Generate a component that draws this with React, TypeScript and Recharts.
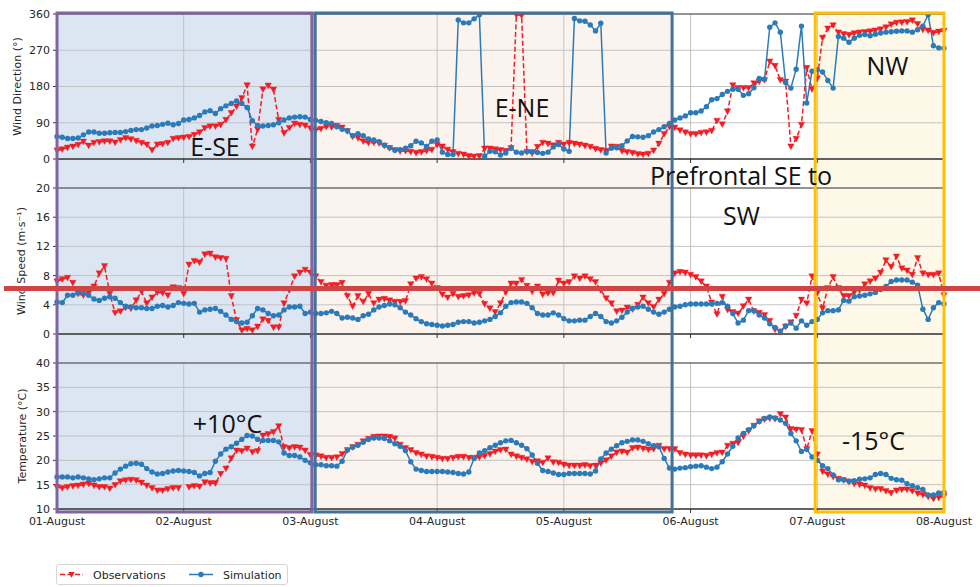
import React from 'react';
import { LineChart, Line, XAxis, YAxis, CartesianGrid, ReferenceArea } from 'recharts';

const dayLabels = ['01-August', '02-August', '03-August', '04-August', '05-August', '06-August', '07-August', '08-August'];
const dayTicks = [0, 24, 48, 72, 96, 120, 144, 168];
const dirTicks = [0, 90, 180, 270, 360];
const speedTicks = [0, 4, 8, 12, 16, 20];
const tempTicks = [10, 15, 20, 25, 30, 35, 40];

const windDirObs = [
  21, 24, 28, 31, 35, 43, 33, 40, 42, 44, 44, 41, 47, 52, 49, 45, 40, 36, 22, 36, 37, 40, 50, 52, 53, 55, 60, 66, 77, 81, 81, 85, 97, 114, 130, 151, 183, 31, 73, 173, 182, 172, 97, 64, 77, 88, 85, 83, 76,
  72, 75, 80, 79, 82, 78, 69, 56, 52, 44, 40, 41, 39, 33, 27, 22, 19, 20, 18, 15, 17, 20, 23, 35, 31, 23, 17, 13, 11, 7, 6, 7, 26, 26, 24, 22, 20, 27, 358, 356, 17, 14, 30, 40, 38, 34, 40, 36, 40, 38, 36, 33, 30, 25, 22, 20, 31, 30, 20, 17, 15, 12, 11, 13, 21, 38, 62, 80, 78,
  71, 66, 62, 62, 65, 66, 70, 95, 86, 118, 183, 176, 176, 176, 188, 192, 196, 242, 231, 196, 192, 31, 50, 85, 226, 173, 200, 301, 324, 332, 314, 310, 308, 312, 314, 315, 317, 319, 322, 327, 334, 338, 339, 340, 344, 335, 321, 319, 313, 316, 318,
];
const windDirSim = [
  56, 54, 51, 51, 52, 60, 67, 67, 64, 64, 65, 66, 66, 68, 71, 73, 73, 77, 82, 83, 86, 89, 85, 88, 97, 98, 102, 108, 117, 120, 113, 125, 132, 138, 144, 138, 128, 95, 83, 82, 83, 85, 90, 97, 102, 104, 105, 104, 98,
  96, 93, 90, 88, 80, 74, 70, 58, 63, 58, 50, 47, 43, 34, 28, 22, 23, 27, 33, 44, 40, 31, 44, 47, 17, 11, 11, 345, 338, 338, 348, 358, 7, 19, 18, 10, 15, 27, 17, 15, 19, 18, 16, 14, 17, 30, 36, 25, 19, 349, 343, 342, 333, 318, 337, 15, 27, 28, 33, 45, 56, 55, 54, 58, 67, 73, 80, 88, 97,
  102, 107, 115, 115, 119, 130, 147, 150, 160, 168, 173, 173, 158, 162, 177, 200, 198, 327, 338, 315, 190, 176, 223, 330, 139, 218, 222, 216, 195, 176, 304, 300, 290, 300, 307, 309, 306, 310, 313, 315, 316, 317, 318, 318, 315, 321, 330, 358, 281, 276, 275,
];
const windSpeedObs = [
  7.2, 7.5, 7.7, 7.0, 5.5, 5.3, 5.6, 6.5, 8.3, 9.3, 5.5, 2.9, 3.1, 3.6, 3.5, 4.6, 5.8, 4.2, 5.0, 5.7, 5.6, 5.3, 6.4, 6.3, 5.5, 9.5, 10.0, 9.8, 10.9, 11.0, 10.5, 10.4, 10.3, 5.2, 1.9, 0.5, 0.7, 0.5, 1.0, 2.0, 1.8, 0.9, 0.9, 4.2, 6.0, 7.9, 8.4, 8.8, 8.4,
  7.9, 7.1, 6.6, 6.7, 6.7, 7.0, 5.2, 3.8, 5.2, 4.4, 5.5, 4.2, 4.7, 4.8, 4.6, 4.4, 4.4, 4.5, 6.8, 7.6, 7.8, 7.5, 6.9, 6.3, 5.4, 5.0, 5.5, 5.1, 5.2, 5.3, 5.6, 5.5, 4.1, 3.5, 3.0, 4.2, 5.7, 6.9, 6.9, 7.4, 6.6, 5.8, 6.5, 5.4, 5.6, 5.6, 7.3, 6.9, 7.1, 7.9, 7.6, 7.9, 7.5, 7.1, 6.0, 4.9, 4.2, 3.1, 3.2, 3.6, 3.4, 4.0, 5.0, 4.2, 3.7, 4.7, 5.5, 7.0, 8.3,
  8.5, 8.4, 8.1, 7.8, 7.2, 6.5, 4.3, 2.7, 5.1, 3.3, 3.0, 2.8, 3.8, 4.7, 3.1, 2.9, 2.6, 1.8, 0.6, 0.3, 1.0, 1.6, 2.5, 4.7, 4.2, 7.9, 5.6, 3.5, 6.3, 7.8, 6.3, 5.2, 5.2, 5.7, 6.0, 6.8, 7.2, 7.6, 8.4, 10.1, 9.2, 10.6, 9.0, 8.7, 8.1, 10.4, 8.3, 8.1, 8.1, 8.3, 5.3,
];
const windSpeedSim = [
  4.4, 4.3, 5.3, 5.3, 5.6, 5.6, 5.3, 4.8, 4.6, 4.9, 5.1, 4.9, 4.3, 3.8, 3.7, 3.6, 3.6, 3.5, 3.5, 3.8, 3.9, 3.7, 3.9, 4.3, 4.2, 4.1, 4.2, 3.0, 3.3, 3.4, 3.5, 3.1, 2.6, 2.0, 1.7, 1.5, 1.6, 2.5, 3.5, 3.3, 2.8, 2.5, 2.6, 3.3, 3.7, 3.7, 3.8, 2.8, 3.0,
  2.8, 2.8, 2.9, 3.1, 2.8, 2.2, 2.3, 2.2, 2.0, 2.5, 2.7, 3.3, 3.7, 3.9, 4.1, 4.0, 3.6, 3.0, 2.6, 2.1, 1.7, 1.4, 1.3, 1.2, 1.1, 1.2, 1.3, 1.6, 1.7, 1.7, 1.5, 1.6, 1.8, 2.0, 2.4, 2.9, 3.8, 4.3, 4.4, 4.4, 4.2, 3.6, 2.8, 2.6, 2.6, 2.9, 2.6, 2.1, 1.8, 1.8, 1.9, 1.9, 2.4, 2.8, 2.4, 1.7, 1.5, 1.8, 2.3, 3.0, 3.5, 3.7, 3.8, 3.4, 3.0, 2.7, 3.0, 3.4, 3.7,
  3.8, 4.0, 4.1, 4.1, 4.1, 4.1, 4.1, 4.2, 4.3, 3.8, 2.8, 1.5, 1.9, 3.2, 3.2, 2.6, 2.2, 1.4, 0.9, 0.4, 1.1, 1.5, 0.8, 1.8, 1.2, 1.7, 2.0, 2.9, 3.2, 3.2, 3.3, 4.6, 4.5, 5.1, 5.2, 5.3, 5.5, 5.7, 6.1, 6.5, 7.2, 7.4, 7.4, 7.4, 7.1, 6.7, 3.4, 2.0, 3.6, 4.3, 4.1,
];
const tempObs = [
  14.5, 14.3, 14.5, 14.7, 14.8, 15.0, 15.2, 14.8, 14.5, 14.5, 14.2, 14.9, 15.7, 15.9, 16.0, 15.9, 15.4, 14.8, 14.3, 13.8, 13.8, 14.1, 14.3, 14.3, null, 14.5, 14.7, 14.6, 15.5, 15.3, 15.3, 17.2, 18.3, 20.4, 22.0, 21.9, 22.4, 21.7, 21.9, 25.1, 25.4, 25.8, 27.0, 22.7, 22.5, 22.7, 22.6, 22.0, 21.1,
  21.0, 20.8, 20.5, 20.5, 20.6, 21.3, 22.1, 22.7, 23.2, 23.9, 24.4, 24.8, 24.9, 24.9, 24.8, 24.5, 23.2, 22.5, 22.1, 21.5, 21.2, 20.8, 20.7, 20.5, 20.3, 20.3, 20.5, 20.7, 20.7, 20.5, 20.5, 20.6, 20.9, 21.3, 21.8, 22.1, 22.2, 21.2, 20.8, 20.5, 20.2, 19.7, 19.8, 19.5, 20.4, 19.6, 19.5, 19.1, 18.9, 18.9, 18.9, 19.0, 18.8, 18.9, 19.4, 20.0, 20.8, 21.6, 21.8, 21.6, 22.5, 22.6, 22.4, 22.2, 22.3, 23.0, 22.3, 22.3, 22.3,
  21.5, 21.2, 21.0, 21.0, 21.0, 20.9, 21.2, 21.5, 21.6, 23.0, 23.4, 23.6, 24.9, 26.0, 27.1, 28.0, 28.4, 28.6, 28.5, 29.5, 28.8, 26.4, 26.3, 26.2, 22.3, 26.0, 21.2, 17.7, 17.1, 16.6, 16.2, 15.9, 15.6, 15.2, 15.0, 14.8, 14.3, 14.1, 14.1, 13.7, 13.3, 13.8, 14.0, 14.0, 13.7, 13.2, 12.9, 12.5, 12.1, 12.3, 12.6,
];
const tempSim = [
  16.6, 16.6, 16.6, 16.4, 16.6, 16.4, 16.2, 16.0, 16.2, 16.4, 16.4, 17.4, 18.2, 18.8, 19.3, 19.4, 19.2, 18.3, 17.6, 17.2, 17.3, 17.6, 17.8, 17.9, 17.8, 17.7, 17.5, 16.8, 17.3, 17.5, 19.8, 21.3, 22.3, 22.8, 23.5, 24.3, 25.1, 25.0, 24.3, 24.1, 24.1, 24.1, 23.8, 21.5, 21.0, 21.0, 20.7, 20.0, 19.5,
  19.1, 19.1, 18.9, 18.9, 18.8, 19.8, 22.1, 22.7, 23.1, 23.7, 24.3, 24.6, 24.6, 24.5, 24.0, 23.4, 22.9, 22.0, 19.7, 18.2, 17.9, 17.7, 17.7, 17.7, 17.7, 17.6, 17.5, 17.3, 17.2, 17.6, 20.4, 21.5, 22.0, 22.6, 23.1, 23.6, 24.0, 24.1, 23.6, 23.1, 22.4, 21.1, 19.4, 17.9, 17.7, 17.4, 17.1, 17.1, 17.3, 17.3, 17.3, 17.3, 17.2, 17.8, 20.3, 21.5, 22.3, 23.0, 23.6, 23.9, 24.2, 24.2, 23.9, 23.4, 23.0, 22.8, 20.4, 18.4, 18.2,
  18.4, 18.5, 18.7, 18.8, 18.9, 18.6, 18.3, 18.6, 19.7, 21.3, 22.9, 24.6, 25.5, 26.3, 27.1, 28.0, 28.6, 28.9, 28.7, 28.3, 27.6, 25.5, 24.0, 21.8, 22.3, 20.7, 20.0, 18.9, 18.3, 17.0, 16.0, 16.0, 15.7, 15.8, 16.1, 16.2, 16.4, 17.1, 17.3, 17.1, 16.3, 16.0, 15.9, 15.2, 14.8, 14.4, 14.0, 12.9, 12.9, 13.3, 13.4,
];

// Highlighted periods (hours since 01-August 00:00)
const regionStart = [0, 48.9, 143.6];
const regionEnd = [48.3, 116.5, 168];
const regionFill = ['#dce6f2', '#fbf3ed', '#fef8e8'];
const regionStroke = ['#8064a2', '#41719c', '#ffc000'];

const RED = '#f41c24';
const BLUE = '#2b7bba';
const FONT = 'DejaVu Sans';

const build = (obs: (number | null)[], sim: (number | null)[]) =>
  obs.map((o, h) => ({ h, obs: o, sim: sim[h] }));

const dirData = build(windDirObs, windDirSim);
const speedData = build(windSpeedObs, windSpeedSim);
const tempData = build(tempObs, tempSim);

const triPath = (cx: number, cy: number) =>
  `M${cx - 3.2},${cy - 2.6} L${cx + 3.2},${cy - 2.6} L${cx},${cy + 3.2} Z`;

const TriDot = (props: any) => {
  const { cx, cy, index } = props;
  if (cx == null || cy == null || isNaN(cx) || isNaN(cy)) return <g key={`t${index}`} />;
  return <path key={`t${index}`} d={triPath(cx, cy)} fill={RED} stroke={RED} strokeWidth={0.4} />;
};

const dayFmt = (v: number) => dayLabels[Math.round(v / 24)] ?? '';
const emptyFmt = () => '';

type PanelProps = {
  data: any[];
  top: number;
  height: number;
  xHeight: number;
  domain: [number, number];
  ticks: number[];
  label: string;
  labelDx: number;
  showX: boolean;
};

function Panel({ data, top, height, xHeight, domain, ticks, label, labelDx, showX }: PanelProps) {
  return (
    <div style={{ position: 'absolute', left: 0, top, width: 980, height }}>
      <LineChart width={980} height={height} data={data} margin={{ top: 14, right: 36, bottom: 0, left: 0 }}>
        <CartesianGrid stroke="#bdbdbd" strokeWidth={0.9} />
        <XAxis
          dataKey="h"
          type="number"
          domain={[0, 168]}
          ticks={dayTicks}
          interval={0}
          height={xHeight}
          tickSize={4}
          tickMargin={4}
          tickFormatter={showX ? dayFmt : emptyFmt}
          axisLine={{ stroke: '#333' }}
          tickLine={{ stroke: '#333' }}
          tick={{ fontSize: 11, fill: '#262626', fontFamily: FONT }}
        />
        <YAxis
          type="number"
          domain={domain}
          ticks={ticks}
          interval={0}
          width={57}
          tickSize={4}
          tickMargin={3}
          axisLine={{ stroke: '#333' }}
          tickLine={{ stroke: '#333' }}
          tick={{ fontSize: 11, fill: '#262626', fontFamily: FONT }}
          label={{
            value: label,
            angle: -90,
            position: 'center',
            dx: labelDx,
            fill: '#262626',
            fontSize: 11,
            fontFamily: FONT,
          }}
        />
        <ReferenceArea x1={0} x2={168} y1={domain[0]} y2={domain[1]} fill="none" fillOpacity={0} stroke="#333" strokeWidth={0.9} />
        <Line
          dataKey="obs"
          type="linear"
          stroke={RED}
          strokeWidth={1.5}
          strokeDasharray="5 2.5"
          dot={TriDot}
          activeDot={false}
          isAnimationActive={false}
        />
        <Line
          dataKey="sim"
          type="linear"
          stroke={BLUE}
          strokeWidth={1.5}
          dot={{ r: 2.7, fill: BLUE, stroke: BLUE, strokeWidth: 0 }}
          activeDot={false}
          isAnimationActive={false}
        />
      </LineChart>
    </div>
  );
}

function Regions({ mode }: { mode: 'fill' | 'stroke' }) {
  return (
    <div style={{ position: 'absolute', left: 0, top: 0, width: 980, height: 587, pointerEvents: 'none' }}>
      <LineChart width={980} height={587} data={dirData} margin={{ top: 13, right: 36, bottom: 75, left: 57 }}>
        <XAxis dataKey="h" type="number" domain={[0, 168]} ticks={dayTicks} hide />
        <YAxis type="number" domain={[0, 360]} ticks={dirTicks} hide />
        <Line dataKey="obs" stroke="none" strokeOpacity={0} dot={false} activeDot={false} isAnimationActive={false} />
        {regionStart.map((s, i) => (
          <ReferenceArea
            key={i}
            x1={s}
            x2={regionEnd[i]}
            y1={0}
            y2={360}
            fill={mode === 'fill' ? regionFill[i] : 'none'}
            fillOpacity={mode === 'fill' ? 1 : 0}
            stroke={mode === 'stroke' ? regionStroke[i] : 'none'}
            strokeWidth={3}
          />
        ))}
      </LineChart>
    </div>
  );
}

const annFont = { fontFamily: 'Open Sans', fontSize: 25, fill: '#111' };

export default function App() {
  return (
    <div style={{ position: 'absolute', left: 0, top: 0, width: 980, height: 587, background: '#fff', overflow: 'hidden' }}>
      <Regions mode="fill" />
      <Panel data={dirData} top={0} height={170} xHeight={11} domain={[0, 360]} ticks={dirTicks} label="Wind Direction (°)" labelDx={-11.5} showX={false} />
      <Panel data={speedData} top={174} height={171} xHeight={11} domain={[0, 20]} ticks={speedTicks} label="Wind Speed (m·s⁻¹)" labelDx={-7} showX={false} />
      <Panel data={tempData} top={349} height={190} xHeight={30} domain={[10, 40]} ticks={tempTicks} label="Temperature (°C)" labelDx={-6} showX={true} />
      <Regions mode="stroke" />
      <svg width={980} height={587} style={{ position: 'absolute', left: 0, top: 0, pointerEvents: 'none' }}>
        <rect x={4} y={286} width={976} height={5} fill="#cf4444" />
        <text x={215} y={156} textAnchor="middle" {...annFont}>E-SE</text>
        <text x={522} y={117} textAnchor="middle" {...annFont}>E-NE</text>
        <text x={887.5} y={75} textAnchor="middle" {...annFont}>NW</text>
        <text x={741} y={185} textAnchor="middle" {...annFont}>Prefrontal SE to</text>
        <text x={741.5} y={225} textAnchor="middle" {...annFont}>SW</text>
        <text x={227.5} y={433} textAnchor="middle" {...annFont}>+10°C</text>
        <text x={873.5} y={450} textAnchor="middle" {...annFont}>-15°C</text>
      </svg>
      <svg width={232} height={21} style={{ position: 'absolute', left: 56, top: 564 }}>
        <rect x={0.5} y={0.5} width={231} height={20} rx={2.5} fill="#fff" stroke="#d5d5d5" />
        <line x1={4} x2={27} y1={10.5} y2={10.5} stroke={RED} strokeWidth={1.5} strokeDasharray="5 2.5" />
        <path d={triPath(15.5, 10.5)} fill={RED} />
        <text x={37} y={14.5} fontSize={11} fontFamily={FONT} fill="#262626">Observations</text>
        <line x1={133} x2={157} y1={10.5} y2={10.5} stroke={BLUE} strokeWidth={1.5} />
        <circle cx={145} cy={10.5} r={2.7} fill={BLUE} />
        <text x={167} y={14.5} fontSize={11} fontFamily={FONT} fill="#262626">Simulation</text>
      </svg>
    </div>
  );
}
